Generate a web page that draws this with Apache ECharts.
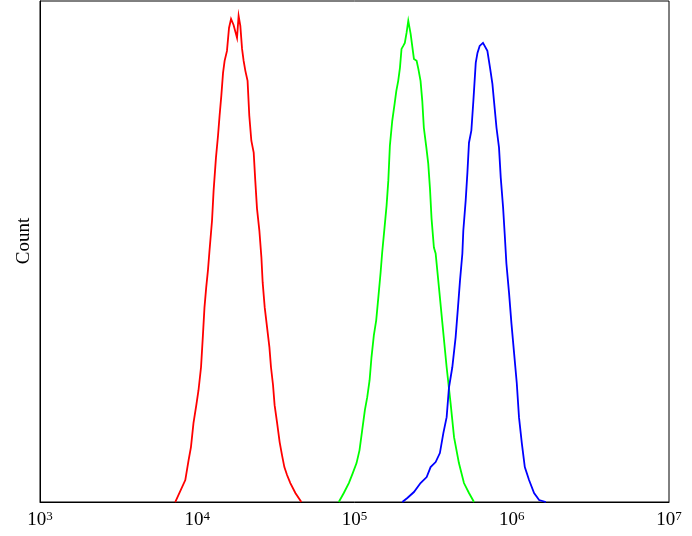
<!DOCTYPE html>
<html>
<head>
<meta charset="utf-8">
<script src="https://cdn.jsdelivr.net/npm/echarts@6/dist/echarts.min.js"></script>
<style>html,body{margin:0;padding:0;background:#fff}#c{width:692px;height:536px}</style>
</head>
<body>
<div id="c"></div>
<script>
// x values are log10 of fluorescence intensity, y values are counts
const redLog = [3.860,3.924,3.945,3.960,3.976,3.994,4.008,4.024,4.036,4.046,4.057,4.068,4.078,4.094,4.104,4.119,4.132,4.142,4.153,4.164,4.174,4.189,4.202,4.215,4.231,4.253,4.263,4.274,4.285,4.295,4.306,4.320,4.331,4.344,4.359,4.369,4.380,4.395,4.408,4.416,4.429,4.444,4.459,4.469,4.482,4.492,4.508,4.524,4.539,4.554,4.571,4.592,4.624,4.662];
const redCount = [0,11,21,27.5,39.5,48.5,56,67.5,83.5,97.5,107.5,116,126,141,156,172.5,183.5,193.5,203.5,215,221,226,237.5,242,239,232.5,243.5,238.5,227,221,216,211,193.5,181,175,161,147,136,122.5,110,97.5,87.5,77.5,67.5,58.5,48.5,39.5,30,23.5,17.5,13.5,9.5,4.5,0];

const greenLog = [4.900,4.932,4.964,4.989,5.013,5.032,5.049,5.066,5.081,5.096,5.108,5.123,5.138,5.151,5.166,5.176,5.191,5.204,5.215,5.225,5.240,5.255,5.266,5.278,5.289,5.299,5.310,5.320,5.331,5.342,5.357,5.378,5.395,5.406,5.420,5.431,5.441,5.457,5.469,5.480,5.490,5.505,5.516,5.537,5.559,5.586,5.611,5.633,5.664,5.696,5.728,5.760];
const greenCount = [0,4.5,9.5,14.5,19.5,26,36,46,52.5,61,72.5,83.5,91,102,115,125,137.5,148.5,161,178.5,191,199.5,206,211,217.5,227,228.5,230,235,241,234.5,222,221,217,211,201,187.5,177.5,169.5,157,142,127.5,124.5,107.5,89.5,67.5,49.5,32.5,19.5,9.5,4.5,0];

const blueLog = [5.304,5.336,5.378,5.420,5.459,5.484,5.516,5.543,5.565,5.586,5.601,5.622,5.643,5.658,5.671,5.686,5.692,5.707,5.718,5.728,5.743,5.756,5.771,5.782,5.796,5.817,5.828,5.845,5.862,5.877,5.887,5.903,5.919,5.930,5.945,5.955,5.966,5.983,5.998,6.015,6.032,6.046,6.064,6.083,6.110,6.142,6.174,6.217];
const blueCount = [0,2,5,9.5,12.5,17.5,20,24.5,34.5,42.5,57.5,67.5,82.5,97.5,111,124.5,136,151,165,180,186,201,220,225,228.5,230,230,226,217.5,209.5,201,187.5,177.5,162.5,147.5,134.5,119.5,104.5,89.5,74.5,59.5,42.5,29.5,17.5,11,4.5,1,0];

const yTitle = 'Count';
const xMin = 1e3, xMax = 1e7;
const yMax = 251;

function pairs(logs, counts){ return logs.map((v,i)=>[Math.pow(10,v), counts[i]]); }

const chart = echarts.init(document.getElementById('c'), null, {renderer:'canvas'});
const serif = '"Liberation Serif", "DejaVu Serif", serif';
function line(name, color, logs, counts){
  return {name, type:'line', showSymbol:false, symbol:'none',
    data: pairs(logs, counts), lineStyle:{color, width:1.8, join:'miter'}, itemStyle:{color}, animation:false};
}
chart.setOption({
  animation:false,
  backgroundColor:'#fff',
  grid:{left:40, right:23, top:1, bottom:34, containLabel:false, outerBoundsMode:'none',
        show:true, borderColor:'#000', borderWidth:1, backgroundColor:'transparent'},
  graphic:[{type:'text', x:24, y:241, rotation:Math.PI/2,
    style:{text:yTitle, fontFamily:serif, fontSize:19, fill:'#000', textAlign:'center', textVerticalAlign:'middle'}}],
  xAxis:{type:'log', logBase:10, min:xMin, max:xMax,
    axisLine:{show:true, lineStyle:{color:'#000', width:1}},
    axisTick:{show:false}, splitLine:{show:false}, minorTick:{show:false},
    axisLabel:{margin:8, showMinLabel:true, showMaxLabel:true,
      formatter: v => '{b|10}{s|' + Math.round(Math.log10(v)) + '}',
      rich:{b:{fontFamily:serif, fontSize:19, color:'#000', verticalAlign:'bottom', lineHeight:20},
            s:{fontFamily:serif, fontSize:13, color:'#000', verticalAlign:'top', padding:[0,0,9,0], lineHeight:20}}}},
  yAxis:{type:'value', min:0, max:yMax,
    axisLine:{show:true, lineStyle:{color:'#000', width:1}},
    axisTick:{show:false}, axisLabel:{show:false}, splitLine:{show:false}},
  series:[
    line('red','#ff0000', redLog, redCount),
    line('green','#00ff00', greenLog, greenCount),
    line('blue','#0000ff', blueLog, blueCount)
  ]
});
</script>
</body>
</html>
